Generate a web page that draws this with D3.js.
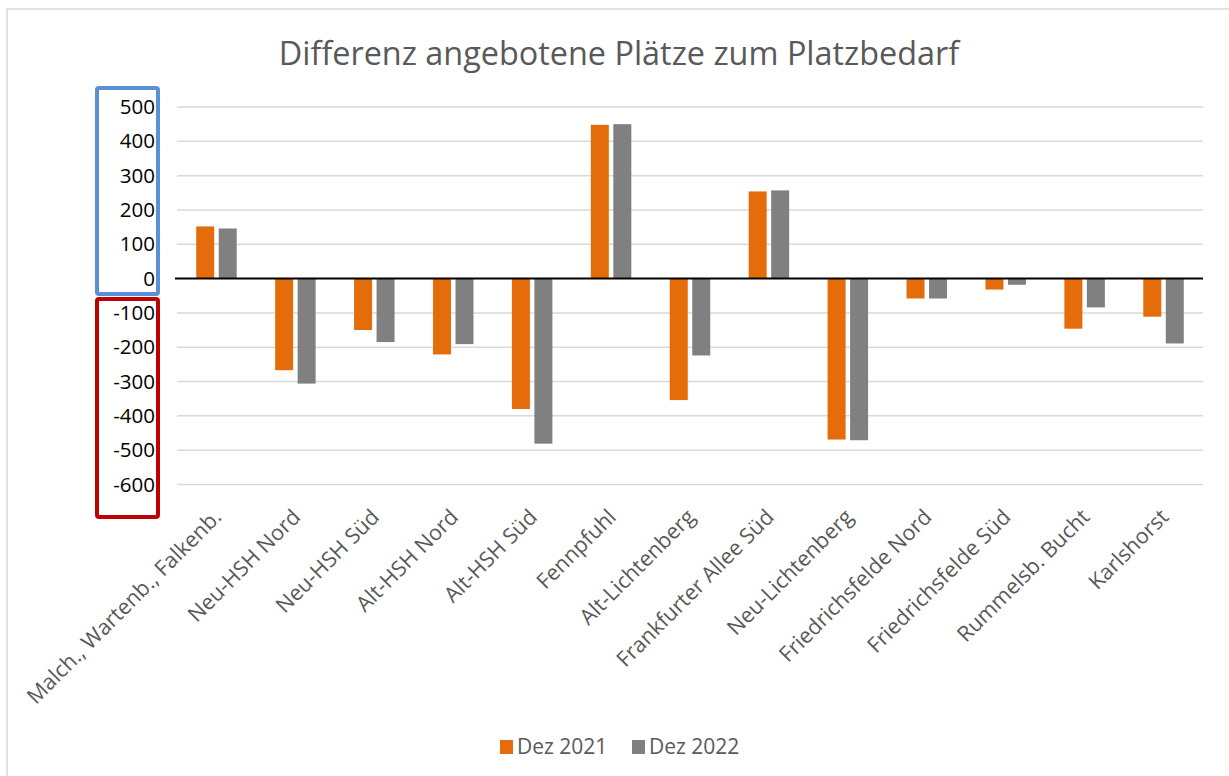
<!DOCTYPE html>
<html>
<head>
<meta charset="utf-8">
<script src="https://cdn.jsdelivr.net/npm/d3@7"></script>
<style>
  body { margin: 0; background: #fff; }
  svg { font-family: "Open Sans", sans-serif; }
  .grid line { stroke: #d9d9d9; stroke-width: 1.5px; }
</style>
</head>
<body>
<div id="chart"></div>
<script>
// categories and values
var categories = ["Malch., Wartenb., Falkenb.", "Neu-HSH Nord", "Neu-HSH Süd", "Alt-HSH Nord",
  "Alt-HSH Süd", "Fennpfuhl", "Alt-Lichtenberg", "Frankfurter Allee Süd", "Neu-Lichtenberg",
  "Friedrichsfelde Nord", "Friedrichsfelde Süd", "Rummelsb. Bucht", "Karlshorst"];
var series = ["Dez 2021", "Dez 2022"];
var dez2021 = [152, -267, -150, -221, -380, 448, -354, 254, -469, -58, -32, -146, -111];
var dez2022 = [146, -306, -185, -191, -481, 450, -224, 257, -471, -58, -18, -84, -189];
var yTicks = [500, 400, 300, 200, 100, 0, -100, -200, -300, -400, -500, -600];
var colors = ["#e46c0a", "#808080"];

var width = 1229,
    height = 776,
    left = 177,
    right = 1203;

var svg = d3.select("#chart").append("svg")
    .attr("width", width)
    .attr("height", height);

// chart frame
svg.append("rect")
    .attr("x", 7).attr("y", 9)
    .attr("width", width).attr("height", height)
    .attr("fill", "none")
    .attr("stroke", "#d9d9d9")
    .attr("stroke-width", 1.5);

svg.append("text")
    .attr("x", 619).attr("y", 65)
    .attr("text-anchor", "middle")
    .attr("font-size", 32.4)
    .attr("fill", "#595959")
    .text("Differenz angebotene Plätze zum Platzbedarf");

var y = d3.scaleLinear()
    .domain([-600, 500])
    .range([484.5, 107]);

var x0 = d3.scaleBand()
    .domain(categories)
    .range([left, right])
    .paddingInner(0.487)
    .paddingOuter(0.2435);

var x1 = d3.scaleBand()
    .domain(series)
    .range([0, x0.bandwidth()])
    .paddingInner(0.2);

// gridlines
svg.append("g")
    .attr("class", "grid")
  .selectAll("line")
    .data(yTicks.filter(function(d) { return d !== 0; }))
  .enter().append("line")
    .attr("x1", left).attr("x2", right)
    .attr("y1", function(d) { return y(d); })
    .attr("y2", function(d) { return y(d); });

// highlight boxes around the y labels
svg.append("rect")
    .attr("x", 97).attr("y", 88)
    .attr("width", 61).attr("height", 206)
    .attr("rx", 2)
    .attr("fill", "none")
    .attr("stroke", "#5b8fd6")
    .attr("stroke-width", 4);

svg.append("rect")
    .attr("x", 97).attr("y", 299)
    .attr("width", 61).attr("height", 218)
    .attr("rx", 2)
    .attr("fill", "none")
    .attr("stroke", "#c00000")
    .attr("stroke-width", 4);

// y axis, plain hyphen for negatives like the original
var yAxis = d3.axisLeft(y)
    .tickValues(yTicks)
    .tickFormat(function(d) { return String(d); })
    .tickSize(0)
    .tickPadding(0);

svg.append("g")
    .attr("transform", "translate(155,0)")
    .call(yAxis)
    .call(function(g) { g.select(".domain").remove(); })
    .selectAll("text")
    .attr("font-size", 20.5)
    .attr("font-family", "Open Sans, sans-serif")
    .attr("fill", "#000");

// bars
var data = [dez2021, dez2022];
series.forEach(function(s, j) {
  svg.append("g")
    .selectAll("rect")
      .data(categories)
    .enter().append("rect")
      .attr("x", function(d) { return x0(d) + x1(s); })
      .attr("width", x1.bandwidth())
      .attr("y", function(d, i) { return y(Math.max(0, data[j][i])); })
      .attr("height", function(d, i) { return Math.abs(y(data[j][i]) - y(0)); })
      .attr("fill", colors[j]);
});

// zero line
svg.append("line")
    .attr("x1", left - 2).attr("x2", right)
    .attr("y1", y(0)).attr("y2", y(0))
    .attr("stroke", "#000")
    .attr("stroke-width", 2);

// category labels
svg.append("g")
  .selectAll("text")
    .data(categories)
  .enter().append("text")
    .attr("transform", function(d) {
      return "translate(" + (x0(d) + x0.bandwidth() / 2 + 1) + ",513)rotate(-45)";
    })
    .attr("text-anchor", "end")
    .attr("dy", "0.35em")
    .attr("font-size", 21.5)
    .attr("fill", "#595959")
    .text(function(d) { return d; });

// legend
var legendX = [500, 632];
var legend = svg.append("g")
  .selectAll("g")
    .data(series)
  .enter().append("g")
    .attr("transform", function(d, i) { return "translate(" + legendX[i] + ",740)"; });

legend.append("rect")
    .attr("width", 13).attr("height", 14)
    .attr("fill", function(d, i) { return colors[i]; });

legend.append("text")
    .attr("x", 17).attr("y", 14)
    .attr("font-size", 21)
    .attr("fill", "#595959")
    .text(function(d) { return d; });
</script>
</body>
</html>
